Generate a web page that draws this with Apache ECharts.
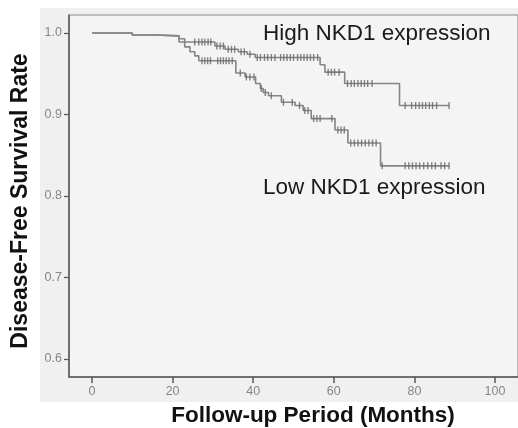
<!DOCTYPE html>
<html>
<head>
<meta charset="utf-8">
<script src="https://cdn.jsdelivr.net/npm/echarts@6/dist/echarts.min.js"></script>
<style>
html,body{margin:0;padding:0;background:#fff;}
#chart{width:518px;height:428px;}
</style>
</head>
<body>
<div id="chart"></div>
<script>
// Kaplan-Meier step data (months, survival after event)
var highTimes = [0, 10, 16, 21.6, 23, 30.5, 33, 36.3, 38.5, 40.5, 56.6, 57.8, 62.7, 76.3, 88.6];
var highSurv  = [1.0, 0.9975, 0.9965, 0.993, 0.989, 0.984, 0.980, 0.977, 0.974, 0.970, 0.961, 0.952, 0.938, 0.911, 0.911];
var lowTimes = [0, 10, 16, 21.6, 23, 24.3, 25.5, 26.5, 35.7, 38, 40.6, 41.8, 42.5, 43.8, 47, 50.4, 52.4, 54.4, 60.3, 63.5, 71.6, 88.6];
var lowSurv  = [1.0, 0.9975, 0.9965, 0.989, 0.983, 0.977, 0.972, 0.966, 0.951, 0.946, 0.938, 0.932, 0.927, 0.923, 0.915, 0.911, 0.905, 0.895, 0.881, 0.865, 0.837, 0.837];
// censoring times
var highCensor = [25.5, 26.5, 27.3, 28, 28.8, 29.5, 31, 31.8, 32.6, 33.8, 34.6, 35.4, 37, 37.8, 39.2, 41, 41.8, 42.8, 43.6, 44.5, 45.4, 46.8, 47.6, 48.4, 49.2, 50, 51, 51.8, 52.6, 53.4, 54.2, 55, 56, 58.6, 59.4, 60.2, 61.3, 63.4, 64.3, 65.1, 66, 66.8, 67.6, 68.4, 69.5, 77.7, 79.3, 80.3, 81.2, 82, 82.8, 83.7, 84.5, 85.5, 88.6];
var lowCensor = [27.3, 28, 28.7, 29.4, 31.2, 31.9, 32.6, 33.3, 34, 34.8, 36.8, 38.3, 39.2, 40.2, 42, 43, 44.5, 47.5, 49.7, 51.5, 52.8, 53.6, 55, 55.8, 56.6, 59.5, 61, 61.8, 62.6, 64.2, 65.1, 66, 66.9, 67.8, 68.7, 69.6, 70.5, 72, 77.7, 78.6, 79.5, 80.4, 81.3, 82.3, 83.3, 84.3, 85.2, 86.6, 87.5, 88.6];
var xTicks = [0, 20, 40, 60, 80, 100];
var yTicks = [0.6, 0.7, 0.8, 0.9, 1.0];
var highLabel = 'High NKD1 expression';
var lowLabel = 'Low NKD1 expression';
var xTitle = 'Follow-up Period (Months)';
var yTitle = 'Disease-Free Survival Rate';

function pairs(t, s) { return t.map(function (v, i) { return [v, s[i]]; }); }
function survAt(t, s, x) {
  var v = s[0];
  for (var i = 0; i < t.length; i++) { if (t[i] <= x) v = s[i]; }
  return v;
}
function censorPts(c, t, s) { return c.map(function (x) { return [x, survAt(t, s, x)]; }); }

var chart = echarts.init(document.getElementById('chart'), null, {renderer: 'canvas'});
var lineColor = '#858585';
var markColor = '#666666';
chart.setOption({
  animation: false,
  backgroundColor: '#ffffff',
  graphic: [
    {type: 'rect', left: 40, top: 8, z: -10, shape: {width: 480, height: 394}, style: {fill: '#f0f0f0'}},
    {type: 'text', left: 263, top: 22, style: {text: highLabel, font: '22.5px "Liberation Sans", Arial, sans-serif', fill: '#1a1a1a'}},
    {type: 'text', left: 263, top: 176, style: {text: lowLabel, font: '22.5px "Liberation Sans", Arial, sans-serif', fill: '#1a1a1a'}},
    {type: 'text', x: 313, y: 416, style: {text: xTitle, font: 'bold 22.5px "Liberation Sans", Arial, sans-serif', fill: '#111', align: 'center', verticalAlign: 'middle'}},
    {type: 'text', x: 21, y: 201, rotation: Math.PI / 2, style: {text: yTitle, font: 'bold 23px "Liberation Sans", Arial, sans-serif', fill: '#111', align: 'center', verticalAlign: 'middle'}}
  ],
  grid: {left: 69, right: -2, top: 15, bottom: 51, show: true, backgroundColor: '#f4f4f4', borderColor: '#8a8a8a', borderWidth: 1},
  xAxis: {
    type: 'value', min: -5.7, max: 105.7,
    axisLine: {show: true, onZero: false, lineStyle: {color: '#555', width: 1.5}},
    axisTick: {show: true, customValues: xTicks, length: 6, lineStyle: {color: '#555', width: 1.5}},
    axisLabel: {customValues: xTicks, color: '#858585', fontSize: 12.5, fontFamily: 'Liberation Sans, Arial, sans-serif', margin: 8},
    splitLine: {show: false}
  },
  yAxis: {
    type: 'value', min: 0.5779, max: 1.0221,
    axisLine: {show: true, onZero: false, lineStyle: {color: '#555', width: 1.5}},
    axisTick: {show: true, customValues: yTicks, length: 5, lineStyle: {color: '#555', width: 1.2}},
    axisLabel: {customValues: yTicks, color: '#858585', fontSize: 12.5, fontFamily: 'Liberation Sans, Arial, sans-serif', margin: 7,
      formatter: function (v) { return v.toFixed(1); }},
    splitLine: {show: false}
  },
  series: [
    {type: 'line', step: 'end', data: pairs(highTimes, highSurv), showSymbol: false, lineStyle: {color: lineColor, width: 1.6}, z: 2},
    {type: 'line', step: 'end', data: pairs(lowTimes, lowSurv), showSymbol: false, lineStyle: {color: lineColor, width: 1.6}, z: 2},
    {type: 'scatter', data: censorPts(highCensor, highTimes, highSurv), symbol: 'rect', symbolSize: [1.4, 7], itemStyle: {color: markColor}, z: 3},
    {type: 'scatter', data: censorPts(lowCensor, lowTimes, lowSurv), symbol: 'rect', symbolSize: [1.4, 7], itemStyle: {color: markColor}, z: 3}
  ]
});
</script>
</body>
</html>
